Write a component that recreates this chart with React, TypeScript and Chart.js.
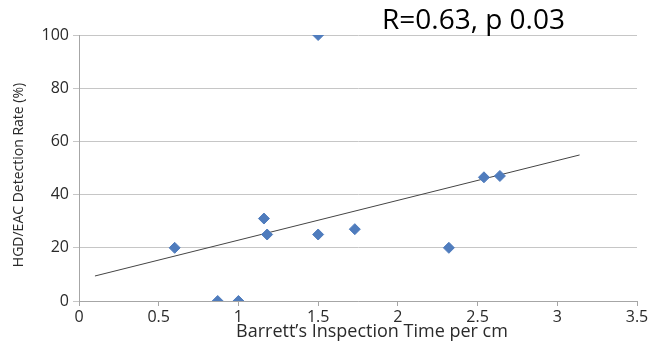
import React, { useEffect, useRef } from "react";
import { Chart, registerables } from "chart.js";

Chart.register(...registerables);

// Data
const inspectionTime = [0.6, 0.87, 1.0, 1.16, 1.18, 1.5, 1.5, 1.73, 2.32, 2.54, 2.64];
const detectionRate = [20, 0, 0, 31, 25, 100, 25, 27, 20, 46.5, 47];
const trendX = [0.1, 3.14];
const trendY = [9.4, 54.9];
const xTicks = [0, 0.5, 1, 1.5, 2, 2.5, 3, 3.5];
const yTicks = [0, 20, 40, 60, 80, 100];
const xTitle = "Barrett\u2019s Inspection Time per cm";
const yTitle = "HGD/EAC Detection Rate (%)";
const annotation = "R=0.63, p 0.03";

const FONT = "'Open Sans', 'DejaVu Sans', sans-serif";

const textPlugin = {
  id: "textPlugin",
  afterDraw(chart: any) {
    const { ctx } = chart;
    ctx.save();
    ctx.fillStyle = "#000";
    ctx.font = `28px ${FONT}`;
    ctx.textAlign = "left";
    ctx.textBaseline = "alphabetic";
    ctx.fillText(annotation, 382, 29);

    ctx.fillStyle = "#2a2a2a";
    ctx.font = `18px ${FONT}`;
    ctx.textAlign = "center";
    ctx.textBaseline = "alphabetic";
    ctx.fillText(xTitle, 372, 337);

    ctx.translate(19, 175);
    ctx.rotate(-Math.PI / 2);
    ctx.font = `14px ${FONT}`;
    ctx.textBaseline = "middle";
    ctx.fillText(yTitle, 0, 0);
    ctx.restore();
  },
};

export default function App() {
  const ref = useRef<HTMLCanvasElement | null>(null);

  useEffect(() => {
    if (!ref.current) return;
    const chart = new Chart(ref.current, {
      type: "scatter",
      data: {
        datasets: [
          {
            label: "Detection rate",
            data: inspectionTime.map((x, i) => ({ x, y: detectionRate[i] })),
            pointStyle: "rectRot",
            pointRadius: 5.5,
            pointHoverRadius: 5.5,
            backgroundColor: "#4F7CBD",
            borderColor: "#4F7CBD",
            borderWidth: 1,
          },
          {
            label: "Trend",
            type: "line",
            data: trendX.map((x, i) => ({ x, y: trendY[i] })),
            showLine: true,
            pointRadius: 0,
            borderColor: "#444",
            borderWidth: 1,
            fill: false,
          } as any,
        ],
      },
      options: {
        animation: false,
        responsive: true,
        maintainAspectRatio: false,
        layout: { padding: { top: 35, right: 16, left: 0, bottom: 0 } },
        plugins: {
          legend: { display: false },
          tooltip: { enabled: false },
        },
        scales: {
          x: {
            type: "linear",
            min: 0,
            max: 3.5,
            afterBuildTicks: (scale: any) => {
              scale.ticks = xTicks.map((v) => ({ value: v }));
            },
            afterFit: (scale: any) => {
              scale.height = 47;
            },
            ticks: {
              color: "#2a2a2a",
              font: { family: FONT, size: 16 },
              padding: 2,
              maxRotation: 0,
              callback: (v: any) => String(v),
            },
            grid: {
              drawOnChartArea: false,
              drawTicks: true,
              tickLength: 5,
              color: "#a6a6a6",
            },
            border: { color: "#a6a6a6", width: 1 },
          },
          y: {
            type: "linear",
            min: 0,
            max: 100,
            afterBuildTicks: (scale: any) => {
              scale.ticks = yTicks.map((v) => ({ value: v }));
            },
            afterFit: (scale: any) => {
              scale.width = 79;
            },
            ticks: {
              color: "#2a2a2a",
              font: { family: FONT, size: 16 },
              padding: 4,
            },
            grid: {
              color: "#c6c6c6",
              tickLength: 6,
              drawTicks: true,
            },
            border: { color: "#a6a6a6", width: 1 },
          },
        },
      },
      plugins: [textPlugin],
    });
    return () => chart.destroy();
  }, []);

  return (
    <div style={{ position: "fixed", left: 0, top: 0, width: 653, height: 348, background: "#fff" }}>
      <canvas ref={ref} />
    </div>
  );
}
